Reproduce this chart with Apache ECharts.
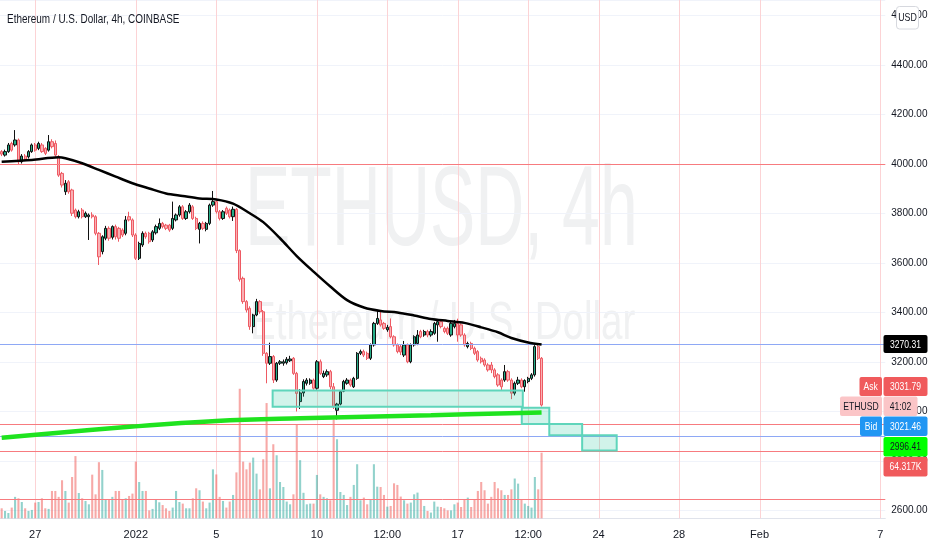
<!DOCTYPE html>
<html>
<head>
<meta charset="utf-8">
<script src="https://cdn.jsdelivr.net/npm/echarts@6/dist/echarts.min.js"></script>
<style>
html,body{margin:0;padding:0;background:#ffffff;}
#chart{width:932px;height:550px;}
</style>
</head>
<body>
<div id="chart"></div>
<script>
// ---------------- DATA ----------------
// 4h slots starting 2021-12-25 08:00
const slotStartUTC = Date.UTC(2021, 11, 25, 8);
const slotCount = 264;

const tickTimes = ['2021-12-27 00:00','2022-01-01 00:00','2022-01-05 00:00','2022-01-10 00:00','2022-01-13 12:00',
  '2022-01-17 00:00','2022-01-20 12:00','2022-01-24 00:00','2022-01-28 00:00','2022-02-01 00:00','2022-02-07 00:00'];
const tickLabels = ['27','2022','5','10','12:00','17','12:00','24','28','Feb','7'];

// [open, close, low, high]
const ohlc = [
[4050,4040,4032,4056],[4036,4050,4030,4058],[4050,4077,4045,4085],[4083,4056,4050,4090],[4077,4097,4070,4137],
[4097,4009,4000,4103],[4009,4032,4002,4040],[4032,4019,4012,4040],[4029,4050,4022,4056],[4050,4077,4045,4083],
[4077,4056,4050,4085],[4063,4083,4056,4090],[4077,4050,4045,4085],[4063,4043,4036,4068],[4056,4090,4050,4117],
[4090,4070,4063,4100],[4083,4036,4029,4095],[4029,3955,3948,4036],[3962,3915,3905,3968],[3888,3922,3875,3935],
[3928,3888,3880,3935],[3895,3801,3790,3900],[3814,3787,3780,3820],[3787,3807,3780,3815],[3814,3787,3780,3822],
[3787,3801,3782,3808],[3787,3794,3693,3800],[3794,3787,3780,3805],[3787,3720,3712,3793],[3720,3625,3592,3725],
[3646,3706,3635,3712],[3700,3740,3692,3750],[3740,3700,3690,3748],[3704,3747,3695,3752],[3747,3706,3695,3755],
[3740,3700,3686,3746],[3733,3713,3705,3740],[3720,3774,3712,3790],[3787,3774,3768,3807],[3774,3713,3705,3780],
[3713,3619,3612,3720],[3619,3679,3612,3686],[3673,3720,3665,3728],[3720,3706,3698,3727],[3720,3686,3678,3726],
[3693,3726,3685,3733],[3722,3747,3715,3755],[3740,3760,3733,3780],[3760,3747,3740,3766],[3753,3740,3733,3758],
[3753,3733,3726,3758],[3740,3780,3733,3848],[3774,3794,3768,3800],[3794,3827,3787,3834],[3827,3780,3774,3834],
[3780,3807,3774,3814],[3807,3834,3800,3842],[3827,3780,3774,3834],[3780,3740,3733,3787],[3736,3760,3679,3766],
[3760,3740,3733,3768],[3736,3760,3728,3766],[3760,3834,3753,3840],[3834,3848,3827,3891],[3848,3807,3800,3858],
[3807,3780,3772,3814],[3780,3807,3774,3814],[3821,3801,3794,3828],[3814,3787,3780,3820],[3787,3817,3770,3828],
[3817,3650,3640,3822],[3650,3534,3525,3655],[3538,3444,3435,3545],[3444,3410,3400,3450],[3417,3343,3330,3425],
[3343,3390,3316,3395],[3390,3444,3385,3455],[3444,3403,3395,3450],[3403,3235,3225,3410],[3235,3195,3114,3240],
[3195,3222,3188,3278],[3222,3127,3115,3228],[3127,3195,3120,3200],[3195,3201,3188,3208],[3195,3201,3185,3210],
[3197,3211,3190,3220],[3205,3212,3200,3225],[3215,3154,3148,3220],[3154,3073,3000,3160],[3040,3075,3010,3090],
[3075,3121,3060,3130],[3114,3127,3105,3135],[3114,3127,3108,3134],[3127,3094,3088,3133],[3094,3201,3088,3208],
[3201,3154,3148,3210],[3141,3154,3135,3165],[3148,3161,3140,3170],[3161,3100,3090,3168],[3100,3020,3010,3115],
[3005,3030,2968,3035],[3030,3080,3025,3085],[3082,3121,3078,3128],[3114,3127,3108,3135],[3127,3107,3100,3133],
[3100,3134,3095,3140],[3134,3235,3128,3240],[3235,3242,3228,3250],[3242,3228,3220,3250],[3235,3215,3208,3242],
[3215,3269,3208,3275],[3269,3356,3262,3362],[3356,3376,3350,3410],[3370,3350,3343,3405],[3356,3336,3330,3362],
[3330,3340,3322,3350],[3343,3302,3296,3376],[3302,3269,3262,3308],[3269,3242,3235,3275],[3262,3240,3228,3270],
[3228,3269,3220,3285],[3269,3201,3195,3275],[3201,3269,3195,3275],[3269,3302,3262,3308],[3275,3309,3268,3329],
[3323,3302,3296,3330],[3309,3323,3302,3330],[3323,3309,3300,3330],[3309,3323,3302,3332],[3316,3356,3310,3362],
[3350,3363,3282,3370],[3363,3343,3336,3370],[3336,3323,3316,3343],[3336,3316,3309,3343],[3309,3356,3302,3362],
[3343,3356,3336,3370],[3356,3309,3282,3375],[3350,3309,3302,3356],[3309,3269,3262,3316],[3262,3275,3255,3282],
[3275,3255,3248,3282],[3255,3235,3228,3262],[3242,3208,3201,3248],[3215,3201,3194,3222],[3208,3188,3181,3215],
[3188,3168,3161,3195],[3188,3168,3155,3200],[3168,3141,3134,3175],[3148,3107,3100,3155],[3127,3100,3087,3134],
[3127,3161,3120,3188],[3161,3127,3120,3168],[3127,3074,3050,3134],[3074,3114,3065,3121],[3114,3127,3107,3140],
[3127,3100,3094,3134],[3100,3125,3080,3130],[3121,3134,3114,3140],[3134,3148,3127,3155],[3148,3262,3141,3268],
[3262,3215,3208,3270],[3215,3026,3020,3220]
];

// volume in thousands
const volume = [
9.8,7.2,5.2,10.5,21,19.6,16,9.8,7.2,8.2,
15.4,16,19.6,9.8,9.2,26.8,26.8,21,37.3,26.8,
15.4,40.5,61,24.8,19.6,17,13.7,42.8,23.5,55,
47.4,18,18,21,26.8,26.8,18,19.6,21.9,24.2,
55.6,35.6,26.8,26.8,7.8,9.2,18,15.7,13,9.8,
7.2,10.5,26.8,16,14.4,9.8,9.8,19.6,29.4,27.5,
16.4,9.8,15.4,48,43,21,17,10.5,16.4,22.9,
45,127,55.6,48,54.6,59.5,43.8,28.4,57.9,113,
29.4,72.6,61.8,35.6,30.7,16.4,13.7,23.5,92,57,
25,13.7,14.4,14.4,42.5,23.5,21,19.6,17.7,97,
77.5,25.8,22.9,13,21,32.7,53,17.7,20.3,13.7,
18.6,53,31,30.7,22.9,11.4,12.1,34.3,32.7,21.3,
17.7,14.4,15.4,23.5,25.2,18,12.1,7.2,5.6,16.4,
11.4,11.1,9.8,7.8,7.8,13.7,15.4,11.1,18.6,20.3,
11.1,18.6,26.8,35.6,27.5,14.4,21,35.6,29.4,27.5,
22.9,22.9,28.4,39,34,18.6,14.4,12.1,10.5,40.5,
28.4,64.317
];

// moving average (black) sampled along its path: candle index / price
const maIdx = [0,9,17,19,24,29,34,39,44,49,54,59,64,69,74,78,83,88,93,98,103,108,113,118,123,128,133,138,143,148,152,157,161];
const maVal = [4009,4016,4027,4023,4003,3976,3949,3922,3901,3881,3871,3861,3857,3840,3801,3765,3700,3628,3565,3505,3450,3420,3406,3400,3388,3374,3366,3358,3340,3320,3297,3279,3270.31];

// long moving average (green)
const longMaIdx = [0,39,64,89,128,161];
const longMaVal = [2894,2939,2962,2973,2985,2996.41];

// rectangles drawn on the chart: [startIndex, endIndex, topPrice, bottomPrice]
const zones = [
  [80.8,155.4,3085,3019],
  [155.1,163.3,3015,2950],
  [163.3,173.1,2950,2904],
  [173.1,183.4,2904,2842]
];

const redLevels = [4000, 2950, 2840, 2647];
const blueLevels = [3272, 2902];

// ---------------- BUILD ----------------
function fmt(d){const p=n=>String(n).padStart(2,'0');return d.getUTCFullYear()+'-'+p(d.getUTCMonth()+1)+'-'+p(d.getUTCDate())+' '+p(d.getUTCHours())+':00';}
const categories = Array.from({length: slotCount}, (_, k) => fmt(new Date(slotStartUTC + k*4*3600e3)));
const tickIdx = tickTimes.map(t => categories.indexOf(t));
const tickMap = {};
tickIdx.forEach((ix, j) => { tickMap[ix] = tickLabels[j]; });

const FONT = '"Liberation Sans",Arial,sans-serif';
const TXT = '#131722';
const GRID_RIGHT = 46.7, GRID_BOTTOM = 31.7;

const volData = volume.map((v, i) => ({
  value: v,
  itemStyle: {color: ohlc[i][1] >= ohlc[i][0] ? 'rgba(38,166,154,0.5)' : 'rgba(239,83,80,0.5)'}
}));

function hLineSeries(levels, color){
  return {
    type:'custom', xAxisIndex:1, yAxisIndex:0, z:4, silent:true, clip:false,
    data: levels.map(v => [0, v]), encode:{x:0, y:1},
    renderItem(params, api){
      const cs = params.coordSys;
      const y = Math.round(api.coord([0, api.value(1)])[1]) + 0.5;
      return {type:'line', shape:{x1:cs.x, y1:y, x2:cs.x+cs.width, y2:y}, style:{stroke:color, lineWidth:1}};
    }
  };
}

function badge(x, y, w, h, fill, text, color){
  return {
    type:'group', z:100,
    children:[
      {type:'rect', z:100, shape:{x:x, y:y, width:w, height:h, r:2}, style:{fill:fill}},
      {type:'text', z:101, x:x+w/2, y:y+h/2+0.5, scaleX:0.78,
       style:{x:0, y:0, text:text, fill:color, font:'11px '+FONT, align:'center', verticalAlign:'middle'}}
    ]
  };
}

const chart = echarts.init(document.getElementById('chart'), null, {renderer:'canvas'});
chart.setOption({
  animation:false,
  backgroundColor:'#ffffff',
  grid:[
    {left:0, right:GRID_RIGHT, top:0, bottom:GRID_BOTTOM, containLabel:false, outerBoundsMode:'none'},
    {left:0, right:GRID_RIGHT, top:314.3, bottom:GRID_BOTTOM, containLabel:false, outerBoundsMode:'none'}
  ],
  xAxis:[
    {type:'category', gridIndex:0, data:categories, boundaryGap:true,
     axisLine:{show:true, lineStyle:{color:'#e0e3eb'}}, axisTick:{show:false}, splitLine:{show:false},
     axisLabel:{interval:(i)=>tickMap[i]!==undefined, formatter:(v,i)=>tickMap[i]||'', color:TXT, fontSize:11, fontFamily:FONT, margin:11, hideOverlap:false}},
    {type:'value', gridIndex:0, min:-0.5, max:slotCount-0.5, show:false, splitLine:{show:false}},
    {type:'category', gridIndex:1, data:categories, boundaryGap:true, show:false}
  ],
  yAxis:[
    {type:'value', gridIndex:0, position:'right', min:2568.5, max:4662.6, splitNumber:10, scale:true,
     axisLine:{show:false}, axisTick:{show:false},
     splitLine:{show:true, lineStyle:{color:'#f0f3fa', width:1}},
     axisLabel:{color:TXT, fontSize:10, fontFamily:FONT, margin:6, showMinLabel:false, showMaxLabel:false,
       formatter:(v)=>v.toFixed(2)}},
    {type:'value', gridIndex:1, min:0, max:200, show:false, splitLine:{show:false}}
  ],
  graphic:[
    {type:'text', z:-5, x:245, y:214, scaleX:0.596, silent:true,
     style:{x:0, y:0, text:'ETHUSD, 4h', fill:'#f0f1f2', font:'114px "Liberation Sans",Arial,sans-serif', align:'left', verticalAlign:'middle'}},
    {type:'text', z:-5, x:250, y:324, scaleX:0.72, silent:true,
     style:{x:0, y:0, text:'Ethereum / U.S. Dollar', fill:'#f0f1f2', font:'53.5px "Liberation Sans",Arial,sans-serif', align:'left', verticalAlign:'middle'}},
    {type:'text', z:50, x:7, y:19.5, scaleX:0.765,
     style:{x:0, y:0, text:'Ethereum / U.S. Dollar, 4h, COINBASE', fill:TXT, font:'13px '+FONT, align:'left', verticalAlign:'middle'}},
    {type:'group', z:100, children:[
      {type:'rect', z:100, shape:{x:896.5, y:6.5, width:22, height:22.5, r:3}, style:{fill:'#ffffff', stroke:'#d6d8de', lineWidth:1}},
      {type:'text', z:101, x:907.5, y:18.3, scaleX:0.8, style:{x:0, y:0, text:'USD', fill:TXT, font:'11px '+FONT, align:'center', verticalAlign:'middle'}}
    ]},
    badge(883.5, 335, 44, 18, '#000000', '3270.31', '#ffffff'),
    badge(859.5, 377, 22.5, 19, '#f05a5c', 'Ask', '#ffffff'),
    badge(883.5, 377, 44, 19, '#f05a5c', '3031.79', '#ffffff'),
    badge(840, 396.5, 42, 19.5, '#fbc5c7', 'ETHUSD', TXT),
    badge(883.5, 396.5, 34, 19.5, '#fbc5c7', '41:02', TXT),
    badge(860, 416.5, 22, 19.5, '#2196f3', 'Bid', '#ffffff'),
    badge(883.5, 416.5, 44, 19.5, '#2196f3', '3021.46', '#ffffff'),
    badge(883.5, 437, 44, 19.5, '#00ff00', '2996.41', TXT),
    badge(883.5, 457, 44, 19.5, '#f05a5c', '64.317K', '#ffffff')
  ],
  series:[
    {type:'custom', name:'dateLines', xAxisIndex:1, yAxisIndex:0, z:1, silent:true, clip:false,
     data: tickIdx.map(i => [i, 3000]), encode:{x:0, y:1},
     renderItem(params, api){
       const cs = params.coordSys;
       const x = Math.round(api.coord([api.value(0), 3000])[0]) + 0.5;
       return {type:'line', shape:{x1:x, y1:cs.y, x2:x, y2:cs.y+cs.height}, style:{stroke:'#fcd3d5', lineWidth:1}};
     }},
    {type:'bar', name:'Volume', xAxisIndex:2, yAxisIndex:1, z:2, barWidth:'62%', data:volData, silent:true},
    {type:'candlestick', name:'ETHUSD', xAxisIndex:0, yAxisIndex:0, z:3, barWidth:'82%',
     data: ohlc,
     itemStyle:{color:'#26ad88', color0:'#f9b0b4', borderColor:'#111111', borderColor0:'#ee5a63', borderWidth:1}},
    hLineSeries(redLevels, '#f77b7f'),
    hLineSeries(blueLevels, '#8ea8f5'),
    {type:'custom', name:'zones', xAxisIndex:1, yAxisIndex:0, z:4, silent:true,
     data: zones, encode:{x:[0,1], y:[2,3]},
     renderItem(params, api){
       const a = api.coord([api.value(0), api.value(2)]);
       const b = api.coord([api.value(1), api.value(3)]);
       return {type:'rect', shape:{x:a[0], y:a[1], width:b[0]-a[0], height:b[1]-a[1]},
               style:{fill:'rgba(46,200,160,0.22)', stroke:'#5fd5bb', lineWidth:2}};
     }},
    {type:'line', name:'Long MA', xAxisIndex:1, yAxisIndex:0, z:5, smooth:0.4, symbol:'none', silent:true,
     data: longMaIdx.map((x, i) => [x, longMaVal[i]]), lineStyle:{color:'#1fe31f', width:4.5}},
    {type:'line', name:'MA', xAxisIndex:1, yAxisIndex:0, z:5, smooth:0.3, symbol:'none', silent:true,
     data: maIdx.map((x, i) => [x, maVal[i]]), lineStyle:{color:'#000000', width:2.5}}
  ]
});
</script>
</body>
</html>
